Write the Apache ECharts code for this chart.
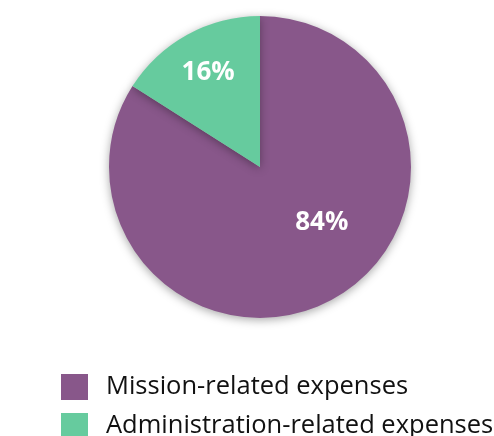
<!DOCTYPE html>
<html><head><meta charset="utf-8">
<script src="https://cdn.jsdelivr.net/npm/echarts@6/dist/echarts.min.js"></script>
<style>html,body{margin:0;padding:0;background:#fff}#c{width:494px;height:436px}</style>
</head><body><div id="c"></div>
<script>
const categories = ["Mission-related expenses", "Administration-related expenses"];
const values = [84, 16];
const colors = ["#88578a", "#66cb9e"];
const labelOffsets = [[24, -13], [-14, -26]];

const chart = echarts.init(document.getElementById('c'), null, {renderer: 'canvas'});
chart.setOption({
  animation: false,
  color: colors,
  legend: {
    orient: 'vertical',
    left: 61,
    top: 374,
    height: 120,
    padding: 0,
    itemWidth: 27,
    itemHeight: 26,
    itemGap: 13,
    icon: 'rect',
    data: categories,
    textStyle: {fontFamily: 'Open Sans', fontSize: 25.5, color: '#111', padding: [0, 0, 0, 13]}
  },
  series: [{
    type: 'pie',
    center: [260, 167],
    radius: 151,
    startAngle: 90,
    clockwise: true,
    label: {
      show: true,
      position: 'inside',
      formatter: '{d}%',
      color: '#fff',
      fontFamily: 'Open Sans',
      fontWeight: 'bold',
      fontSize: 26
    },
    labelLine: {show: false},
    itemStyle: {shadowBlur: 10, shadowColor: 'rgba(0,0,0,0.35)', shadowOffsetY: 2},
    emphasis: {disabled: true},
    data: categories.map((n, i) => ({name: n, value: values[i], label: {offset: labelOffsets[i]}}))
  }]
});
</script></body></html>
